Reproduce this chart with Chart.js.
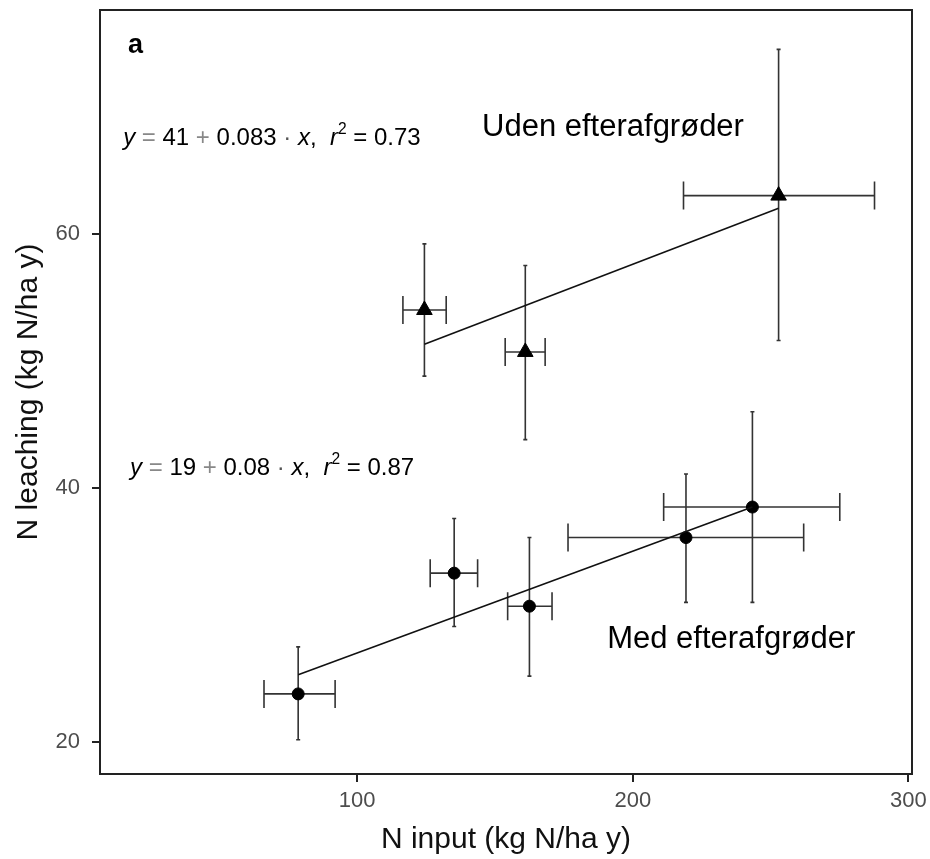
<!DOCTYPE html>
<html>
<head>
<meta charset="utf-8">
<script src="https://cdn.jsdelivr.net/npm/chart.js@4"></script>
<style>
  body { margin: 0; background: #fff; }
</style>
</head>
<body>
<canvas id="myChart" width="930" height="859"></canvas>
<script>
// Uden efterafgrøder (triangles)
const udenX = [124.4, 161.0, 252.9]
const udenY = [54.0, 50.7, 63.0]
const udenXLow = [116.6, 153.7, 218.4]
const udenXHigh = [132.3, 168.2, 287.7]
const udenYLow = [48.8, 43.8, 51.6]
const udenYHigh = [59.2, 57.5, 74.5]

// Med efterafgrøder (circles)
const medX = [78.6, 135.2, 162.5, 219.3, 243.4]
const medY = [23.8, 33.3, 30.7, 36.1, 38.5]
const medXLow = [66.2, 126.5, 154.6, 176.5, 211.2]
const medXHigh = [92.0, 143.7, 170.7, 262.0, 275.1]
const medYLow = [20.2, 29.1, 25.2, 31.0, 31.0]
const medYHigh = [27.5, 37.6, 36.1, 41.1, 46.0]

// fitted lines, end points
const udenFitX = [124.4, 252.9]
const udenFitY = [51.3, 62.0]
const medFitX = [78.6, 243.4]
const medFitY = [25.3, 38.5]

const xTicks = [100, 200, 300]
const yTicks = [20, 40, 60]

const toPoints = (xs, ys) => xs.map((x, i) => ({ x: x, y: ys[i] }))

const errorBars = {
  id: 'errorBars',
  beforeDatasetsDraw(chart) {
    const { ctx, scales: { x, y } } = chart
    ctx.save()
    ctx.strokeStyle = '#333'
    ctx.lineWidth = 1.6
    chart.data.datasets.forEach((ds) => {
      if (!ds.err) return
      ds.data.forEach((p, i) => {
        const px = x.getPixelForValue(p.x)
        const py = y.getPixelForValue(p.y)
        const x1 = x.getPixelForValue(ds.err.xLow[i])
        const x2 = x.getPixelForValue(ds.err.xHigh[i])
        const y1 = y.getPixelForValue(ds.err.yLow[i])
        const y2 = y.getPixelForValue(ds.err.yHigh[i])
        ctx.beginPath()
        // vertical bar, tiny caps
        ctx.moveTo(px, y1); ctx.lineTo(px, y2)
        ctx.moveTo(px - 2, y1); ctx.lineTo(px + 2, y1)
        ctx.moveTo(px - 2, y2); ctx.lineTo(px + 2, y2)
        // horizontal bar, tall caps
        ctx.moveTo(x1, py); ctx.lineTo(x2, py)
        ctx.moveTo(x1, py - 14); ctx.lineTo(x1, py + 14)
        ctx.moveTo(x2, py - 14); ctx.lineTo(x2, py + 14)
        ctx.stroke()
      })
    })
    ctx.restore()
  }
}

const frame = {
  id: 'frame',
  afterDraw(chart) {
    const { ctx, chartArea: a } = chart
    ctx.save()
    ctx.strokeStyle = '#222'
    ctx.lineWidth = 2
    ctx.strokeRect(a.left, a.top, a.right - a.left, a.bottom - a.top)
    ctx.restore()
  }
}

const eq1 = [
  { t: 'y', it: true }, { t: ' = ', c: '#888' }, { t: '41' }, { t: ' + ', c: '#888' },
  { t: '0.083' }, { t: ' · ', c: '#555' }, { t: 'x', it: true }, { t: ',  ' },
  { t: 'r', it: true }, { t: '2', sup: true }, { t: ' = 0.73' }
]
const eq2 = [
  { t: 'y', it: true }, { t: ' = ', c: '#888' }, { t: '19' }, { t: ' + ', c: '#888' },
  { t: '0.08' }, { t: ' · ', c: '#555' }, { t: 'x', it: true }, { t: ',  ' },
  { t: 'r', it: true }, { t: '2', sup: true }, { t: ' = 0.87' }
]

const labels = [
  { x: 16.9, y: 74.2, parts: [{ t: 'a' }], size: 27, bold: true },
  { x: 15.1, y: 67.0, parts: eq1, size: 24 },
  { x: 17.6, y: 41.05, parts: eq2, size: 24 },
  { x: 145.3, y: 67.67, parts: [{ t: 'Uden efterafgrøder' }], size: 31 },
  { x: 190.7, y: 27.4, parts: [{ t: 'Med efterafgrøder' }], size: 31 }
]

const textLabels = {
  id: 'textLabels',
  afterDraw(chart) {
    const { ctx, scales: { x, y } } = chart
    ctx.save()
    ctx.textBaseline = 'alphabetic'
    labels.forEach((l) => {
      let px = x.getPixelForValue(l.x)
      const py = y.getPixelForValue(l.y)
      l.parts.forEach((p) => {
        const size = p.sup ? l.size * 0.65 : l.size
        ctx.font = (p.it ? 'italic ' : '') + (l.bold ? 'bold ' : '') + size + 'px "Liberation Sans", Arial, sans-serif'
        ctx.fillStyle = p.c || '#000'
        ctx.fillText(p.t, px, p.sup ? py - l.size * 0.45 : py)
        px += ctx.measureText(p.t).width
      })
    })
    ctx.restore()
  }
}

const tickFont = { family: '"Liberation Sans", Arial, sans-serif', size: 22 }
const titleFont = { family: '"Liberation Sans", Arial, sans-serif', size: 30 }

const config = {
  type: 'scatter',
  data: {
    datasets: [
      {
        label: 'Uden fit',
        type: 'line',
        data: toPoints(udenFitX, udenFitY),
        borderColor: '#111',
        borderWidth: 1.6,
        pointRadius: 0,
        fill: false
      },
      {
        label: 'Med fit',
        type: 'line',
        data: toPoints(medFitX, medFitY),
        borderColor: '#111',
        borderWidth: 1.6,
        pointRadius: 0,
        fill: false
      },
      {
        label: 'Uden efterafgrøder',
        data: toPoints(udenX, udenY),
        pointStyle: 'triangle',
        pointRadius: 9,
        backgroundColor: '#000',
        borderColor: '#000',
        err: { xLow: udenXLow, xHigh: udenXHigh, yLow: udenYLow, yHigh: udenYHigh }
      },
      {
        label: 'Med efterafgrøder',
        data: toPoints(medX, medY),
        pointStyle: 'circle',
        pointRadius: 6,
        backgroundColor: '#000',
        borderColor: '#000',
        err: { xLow: medXLow, xHigh: medXHigh, yLow: medYLow, yHigh: medYHigh }
      }
    ]
  },
  options: {
    responsive: false,
    animation: false,
    layout: { padding: { top: 6, right: 18, left: 0, bottom: 0 } },
    scales: {
      x: {
        type: 'linear',
        min: 6.7,
        max: 301.3,
        afterBuildTicks: (s) => { s.ticks = xTicks.map((v) => ({ value: v })) },
        afterFit: (s) => { s.height = 85; s.paddingLeft = 0; s.paddingRight = 0 },
        border: { display: false },
        grid: { drawOnChartArea: false, drawTicks: true, tickLength: 8, color: '#222', lineWidth: 2 },
        ticks: { color: '#4d4d4d', font: tickFont, padding: 6, maxRotation: 0 },
        title: { display: true, text: 'N input (kg N/ha y)', color: '#111', font: titleFont, padding: { bottom: 1 } }
      },
      y: {
        type: 'linear',
        min: 17.5,
        max: 77.6,
        afterBuildTicks: (s) => { s.ticks = yTicks.map((v) => ({ value: v })) },
        afterFit: (s) => { s.width = 100; s.paddingTop = 0; s.paddingBottom = 0 },
        border: { display: false },
        grid: { drawOnChartArea: false, drawTicks: true, tickLength: 8, color: '#222', lineWidth: 2 },
        ticks: { color: '#4d4d4d', font: tickFont, padding: 12 },
        title: { display: true, text: 'N leaching (kg N/ha y)', color: '#111', font: titleFont, padding: { top: 11 } }
      }
    },
    plugins: {
      legend: { display: false },
      tooltip: { enabled: false }
    }
  },
  plugins: [errorBars, frame, textLabels]
}

const myChart = new Chart(document.getElementById('myChart'), config)
</script>
</body>
</html>
